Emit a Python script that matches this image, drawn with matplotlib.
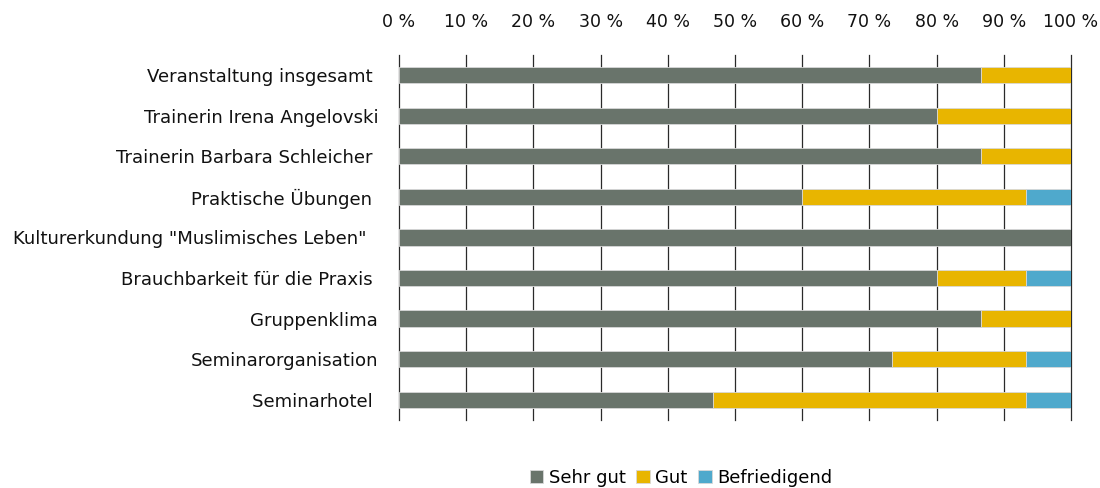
import matplotlib
matplotlib.use("Agg")
import matplotlib.pyplot as plt
import numpy as np

categories = [
    "Veranstaltung insgesamt ",
    "Trainerin Irena Angelovski",
    "Trainerin Barbara Schleicher ",
    "Praktische Übungen ",
    "Kulturerkundung \"Muslimisches Leben\"  ",
    "Brauchbarkeit für die Praxis ",
    "Gruppenklima",
    "Seminarorganisation",
    "Seminarhotel ",
]
sehr_gut = [86.67, 80.0, 86.67, 60.0, 100.0, 80.0, 86.67, 73.33, 46.67]
gut = [13.33, 20.0, 13.33, 33.33, 0.0, 13.33, 13.33, 20.0, 46.67]
befriedigend = [0.0, 0.0, 0.0, 6.67, 0.0, 6.67, 0.0, 6.67, 6.67]
series_names = ["Sehr gut", "Gut", "Befriedigend"]
colors = ["#69746B", "#E8B500", "#4FA9CC"]
xticks = [0, 10, 20, 30, 40, 50, 60, 70, 80, 90, 100]

plt.rcParams['font.family'] = ['DejaVu Sans']
fig = plt.figure(figsize=(11, 4.88), dpi=100)
ax = fig.add_axes([399/1100, 1-420/488, 672/1100, 365/488])

y = np.arange(len(categories))
left = np.zeros(len(categories))
for name, vals, c in zip(series_names, [sehr_gut, gut, befriedigend], colors):
    vals = np.array(vals)
    ax.barh(y, vals, left=left, height=0.4, color=c, label=name,
            edgecolor="#D8D8D8", linewidth=0.6, zorder=3)
    left += vals

ax.set_xlim(0, 100)
ax.set_ylim(len(categories)-0.5, -0.5)
ax.set_xticks(xticks)
ax.set_xticklabels([f"{t} %" for t in xticks])
ax.xaxis.tick_top()
ax.set_yticks(y)
ax.set_yticklabels(categories)
ax.tick_params(axis='x', length=0, pad=17, labelsize=12.5, labelcolor="#111111")
ax.tick_params(axis='y', length=0, pad=15, labelsize=13.1, labelcolor="#111111")
for s in ax.spines.values():
    s.set_visible(False)
ax.grid(axis='x', color="#2A2A2A", linewidth=0.9, zorder=0)
for gl in ax.xaxis.get_gridlines():
    gl.set_clip_on(False)
ax.set_axisbelow(True)

leg = fig.legend(loc='center', bbox_to_anchor=(681/1100, 1-478/488), ncol=3,
                 frameon=False, fontsize=13, handlelength=0.75, handleheight=0.75,
                 handletextpad=0.3, columnspacing=0.6)

fig.savefig("out.png", dpi=100)
